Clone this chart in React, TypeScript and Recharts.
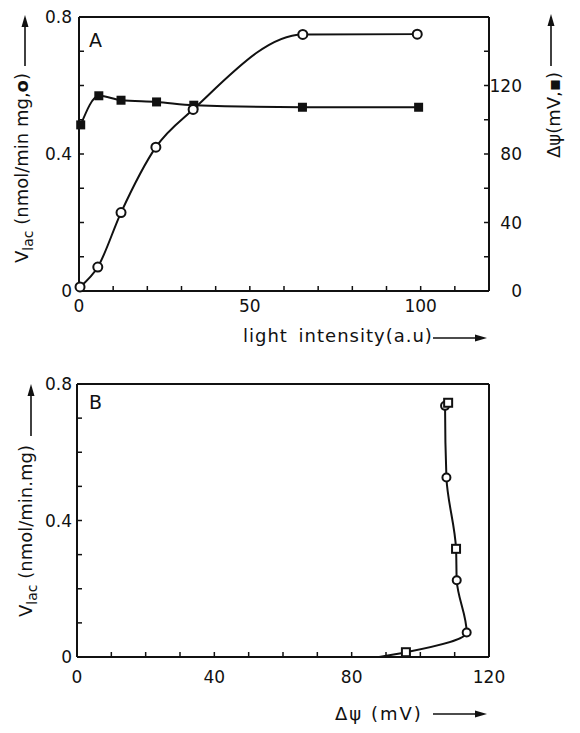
import { ComposedChart, Label, Line, XAxis, YAxis } from "recharts";

const FONT = "'DejaVu Sans', sans-serif";
const INK = "#111";

// panel A — lactose uptake (open circles) and membrane potential (filled squares) vs light
const lacIntensity = [0.3, 5.5, 12.3, 22.5, 33.4, 65.5, 99];
const lacRate = [0.012, 0.07, 0.229, 0.42, 0.53, 0.749, 0.75];
const psiIntensity = [0.5, 5.8, 12.3, 22.7, 33.6, 65.4, 99.4];
const psiMv = [97, 114, 111.4, 110.4, 108.5, 107.3, 107.3];

// panel B — uptake rate vs membrane potential (first entry is the end of the drawn curve)
const bPsi = [88, 95.8, 113.5, 110.6, 110.4, 107.6, 107.2, 108.1];
const bRate = [0, 0.014, 0.072, 0.225, 0.317, 0.526, 0.736, 0.745];
const bMarker = ["", "square", "circle", "circle", "square", "circle", "circle", "square"];

// ticks
const xTicksA = [0, 10, 20, 30, 40, 50, 60, 70, 80, 90, 100, 110, 120];
const xLabelsA = [0, 50, 100];
const xTicksB = [0, 10, 20, 30, 40, 50, 60, 70, 80, 90, 100, 110, 120];
const xLabelsB = [0, 40, 80, 120];
const vTicks = [0, 0.1, 0.2, 0.3, 0.4, 0.5, 0.6, 0.7, 0.8];
const vLabels = [0, 0.4, 0.8];
const mvTicks = [0, 20, 40, 60, 80, 100, 120, 140, 160];
const mvLabels = [0, 40, 80, 120];

const circleData = lacIntensity.map((x, i) => ({ x, y: lacRate[i] }));
const squareData = psiIntensity.map((x, i) => ({ x, y: psiMv[i] }));
const bData = bPsi.map((x, i) => ({ x, y: bRate[i], m: bMarker[i] }));

const only = (labels: number[]) => (v: number) => (labels.includes(v) ? String(v) : "");

const tickFont = { fontSize: 17, fontFamily: FONT, fill: INK };
const axisLine = { stroke: INK, strokeWidth: 2 };
const tickLine = { stroke: INK, strokeWidth: 1.5 };

function arrow(x1: number, y1: number, x2: number, y2: number) {
  const len = Math.hypot(x2 - x1, y2 - y1);
  const ux = (x2 - x1) / len;
  const uy = (y2 - y1) / len;
  const bx = x2 - ux * 12;
  const by = y2 - uy * 12;
  return (
    <g>
      <line x1={x1} y1={y1} x2={bx} y2={by} stroke={INK} strokeWidth={1.6} />
      <polygon
        points={`${x2},${y2} ${bx - uy * 3.5},${by + ux * 3.5} ${bx + uy * 3.5},${by - ux * 3.5}`}
        fill={INK}
      />
    </g>
  );
}

const titleStyle = { fontSize: 18, fontFamily: FONT, fill: INK };

const LeftTitleA = () => (
  <g>
    <text transform="translate(28,263) rotate(-90)" {...titleStyle}>
      V<tspan fontSize={14} dy={5}>lac</tspan>
      <tspan dy={-5}> (nmol/min mg,</tspan>
      <tspan fontWeight="bold">o</tspan>)
    </text>
    {arrow(25, 66, 25, 15)}
  </g>
);

const RightTitleA = () => (
  <g>
    <text transform="translate(560,158) rotate(-90)" {...titleStyle}>
      Δψ(mV,▪)
    </text>
    {arrow(551, 66, 551, 14)}
  </g>
);

const BottomTitleA = () => (
  <g>
    <text x={243} y={342} {...titleStyle} letterSpacing={1} wordSpacing={4}>
      light intensity(a.u)
    </text>
    {arrow(433, 338, 487, 338)}
  </g>
);

const PanelLetter = ({ text }: { text: string }) => (
  <text x={89} y={47} fontSize={19} fontFamily={FONT} fill={INK}>
    {text}
  </text>
);

const LeftTitleB = () => (
  <g>
    <text transform="translate(32,255) rotate(-90)" {...titleStyle}>
      V<tspan fontSize={14} dy={5}>lac</tspan>
      <tspan dy={-5}> (nmol/min.mg)</tspan>
    </text>
    {arrow(31, 74, 31, 22)}
  </g>
);

const BottomTitleB = () => (
  <g>
    <text x={335} y={358} {...titleStyle} letterSpacing={2}>
      Δψ (mV)
    </text>
    {arrow(433, 352, 487, 352)}
  </g>
);

const OpenCircle = (p: any) => (
  <circle key={`c${p.index}`} cx={p.cx} cy={p.cy} r={4.5} fill="#fff" stroke={INK} strokeWidth={2} />
);

const FilledSquare = (p: any) => (
  <rect key={`s${p.index}`} x={p.cx - 4.5} y={p.cy - 4.5} width={9} height={9} fill={INK} />
);

const MixedMarker = (p: any) => {
  const m = p.payload?.m;
  if (m === "circle")
    return <circle key={`m${p.index}`} cx={p.cx} cy={p.cy} r={4} fill="#fff" stroke={INK} strokeWidth={2} />;
  if (m === "square")
    return (
      <rect key={`m${p.index}`} x={p.cx - 4} y={p.cy - 4} width={8} height={8} fill="#fff" stroke={INK} strokeWidth={2} />
    );
  return <g key={`m${p.index}`} />;
};

function PanelA() {
  return (
    <ComposedChart width={580} height={362} margin={{ top: 15, right: 0, bottom: 0, left: 0 }}>
      <XAxis
        xAxisId="b"
        dataKey="x"
        type="number"
        domain={[0, 120]}
        ticks={xTicksA}
        tickFormatter={only(xLabelsA)}
        interval={0}
        height={71}
        tickSize={-5}
        tickMargin={14}
        tick={tickFont}
        axisLine={axisLine}
        tickLine={tickLine}
      >
        <Label content={BottomTitleA} />
      </XAxis>
      <XAxis
        xAxisId="t"
        orientation="top"
        type="number"
        domain={[0, 120]}
        ticks={xTicksA}
        interval={0}
        height={2}
        tickSize={-5}
        tick={false}
        axisLine={axisLine}
        tickLine={tickLine}
      >
        <Label content={() => <PanelLetter text="A" />} />
      </XAxis>
      <YAxis
        yAxisId="v"
        type="number"
        domain={[0, 0.8]}
        ticks={vTicks}
        tickFormatter={only(vLabels)}
        interval={0}
        width={79}
        tickSize={-5}
        tickMargin={12}
        tick={tickFont}
        axisLine={axisLine}
        tickLine={tickLine}
      >
        <Label content={LeftTitleA} />
      </YAxis>
      <YAxis
        yAxisId="mv"
        orientation="right"
        type="number"
        domain={[0, 160]}
        ticks={mvTicks}
        tickFormatter={only(mvLabels)}
        interval={0}
        width={91}
        tickSize={-5}
        tickMargin={38}
        tick={{ ...tickFont, textAnchor: "end" }}
        axisLine={axisLine}
        tickLine={tickLine}
      >
        <Label content={RightTitleA} />
      </YAxis>
      <Line
        data={squareData}
        xAxisId="b"
        yAxisId="mv"
        dataKey="y"
        type="monotone"
        stroke={INK}
        strokeWidth={2}
        dot={FilledSquare}
        activeDot={false}
        isAnimationActive={false}
      />
      <Line
        data={circleData}
        xAxisId="b"
        yAxisId="v"
        dataKey="y"
        type="monotone"
        stroke={INK}
        strokeWidth={2}
        dot={OpenCircle}
        activeDot={false}
        isAnimationActive={false}
      />
    </ComposedChart>
  );
}

function PanelB() {
  return (
    <ComposedChart width={580} height={371} margin={{ top: 20, right: 0, bottom: 0, left: 0 }}>
      <XAxis
        xAxisId="b"
        dataKey="x"
        type="number"
        domain={[0, 120]}
        ticks={xTicksB}
        tickFormatter={only(xLabelsB)}
        interval={0}
        height={76}
        tickSize={-5}
        tickMargin={19}
        tick={tickFont}
        axisLine={axisLine}
        tickLine={tickLine}
      >
        <Label content={BottomTitleB} />
      </XAxis>
      <XAxis
        xAxisId="t"
        orientation="top"
        type="number"
        domain={[0, 120]}
        ticks={xTicksB}
        interval={0}
        height={2}
        tickSize={-5}
        tick={false}
        axisLine={axisLine}
        tickLine={tickLine}
      >
        <Label content={() => <PanelLetter text="B" />} />
      </XAxis>
      <YAxis
        yAxisId="v"
        type="number"
        domain={[0, 0.8]}
        ticks={vTicks}
        tickFormatter={only(vLabels)}
        interval={0}
        width={77}
        tickSize={-5}
        tickMargin={10}
        tick={tickFont}
        axisLine={axisLine}
        tickLine={tickLine}
      >
        <Label content={LeftTitleB} />
      </YAxis>
      <YAxis
        yAxisId="r"
        orientation="right"
        type="number"
        domain={[0, 0.8]}
        ticks={vTicks}
        interval={0}
        width={91}
        tickSize={-5}
        tick={false}
        axisLine={axisLine}
        tickLine={tickLine}
      />
      <Line
        data={bData}
        xAxisId="b"
        yAxisId="v"
        dataKey="y"
        type="monotoneY"
        stroke={INK}
        strokeWidth={2}
        dot={MixedMarker}
        activeDot={false}
        isAnimationActive={false}
      />
    </ComposedChart>
  );
}

export default function App() {
  return (
    <div style={{ position: "absolute", left: 0, top: 0, width: 580, height: 733, background: "#fff" }}>
      <div style={{ position: "absolute", left: 0, top: 0 }}>
        <PanelA />
      </div>
      <div style={{ position: "absolute", left: 0, top: 362 }}>
        <PanelB />
      </div>
    </div>
  );
}
